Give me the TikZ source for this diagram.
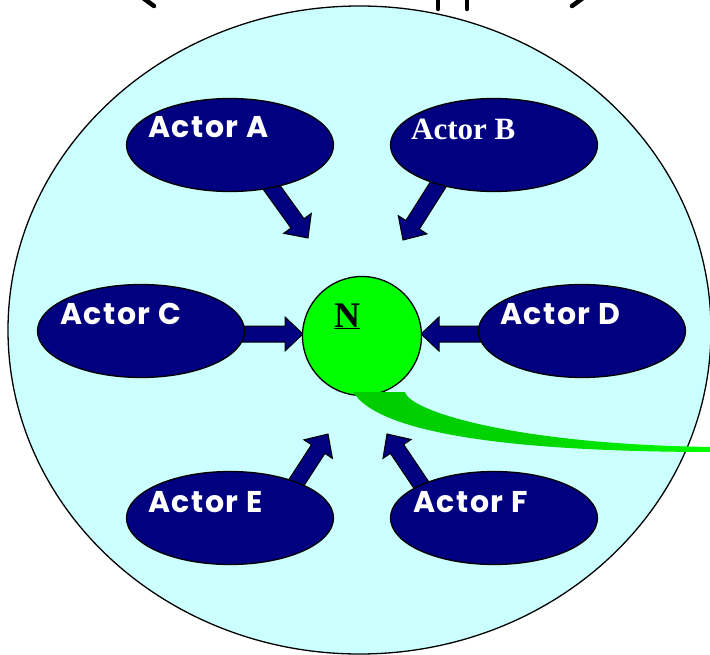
\documentclass[tikz,border=0pt]{standalone}
\usepackage{fontspec}
\usetikzlibrary{shapes.geometric,calc}
\newfontfamily\actorfont[LetterSpace=5]{Poppins}
\newfontfamily\serifbold{Liberation Serif}
\definecolor{navy}{RGB}{0,0,128}
\definecolor{paleaqua}{RGB}{204,255,255}
\definecolor{brightgreen}{RGB}{0,255,0}
\definecolor{deepgreen}{RGB}{0,204,0}
\newcommand\blockarr[2]{%
  \coordinate (#1base) at ($(#2)!18pt!(#1)$);
  \draw[blockarrow] ($(#1)!8pt!90:(#2)$) -- ($(#1base)!8pt!-90:(#1)$) -- ($(#1base)!17pt!-90:(#1)$) -- (#2)
    -- ($(#1base)!17pt!90:(#1)$) -- ($(#1base)!8pt!90:(#1)$) -- ($(#1)!8pt!-90:(#2)$) -- cycle;}
\tikzset{
  actor/.style={ellipse, draw=black, line width=1.3pt, fill=navy, minimum width=207pt, minimum height=93pt, inner sep=0pt},
  actortext/.style={anchor=base west, text=white, font=\actorfont\bfseries\fontsize{30}{30}\selectfont, inner sep=0pt},
  blockarrow/.style={draw=black, line width=1pt, fill=navy, line join=miter},
  hub/.style={circle, draw=black, line width=1.3pt, fill=brightgreen, minimum size=119pt, inner sep=0pt},
  frag/.style={line width=4.5pt, line cap=round}
}
\begin{document}
\begin{tikzpicture}[x=1pt,y=-1pt]
\useasboundingbox (0,0) rectangle (710,655);
% title fragments cut off at the top
\draw[frag] (143,-2) -- (154,6);
\draw[frag] (438,-2) -- (438,9);
\draw[frag] (467,-2) -- (467,9);
\draw[frag] (572,6) -- (583,-2);
% big region
\draw[fill=paleaqua, line width=1.3pt] (359.5,330) ellipse [x radius=351.5, y radius=324];
% actor positions
\coordinate (A) at (230,145);
\coordinate (B) at (494,145);
\coordinate (C) at (141,331);
\coordinate (D) at (582,331);
\coordinate (E) at (230,518);
\coordinate (F) at (494,518);
% arrow end points
\coordinate (ta) at (267,181); \coordinate (ha) at (308,238);
\coordinate (tb) at (441,180); \coordinate (hb) at (403,240);
\coordinate (tc) at (236,334); \coordinate (hc) at (303,334);
\coordinate (td) at (487,334); \coordinate (hd) at (421,334);
\coordinate (te) at (289,494); \coordinate (he) at (328,434);
\coordinate (tf) at (426,492); \coordinate (hf) at (387,434);
% arrows first, ellipses cover their tails
\blockarr{ta}{ha}
\blockarr{tb}{hb}
\blockarr{tc}{hc}
\blockarr{td}{hd}
\blockarr{te}{he}
\blockarr{tf}{hf}
\node[actor] (An) at (A) {};
\node[actor] (Bn) at (B) {};
\node[actor] (Cn) at (C) {};
\node[actor] (Dn) at (D) {};
\node[actor] (En) at (E) {};
\node[actor] (Fn) at (F) {};
% hub
\node[hub] (N) at (362,336) {};
% green swoosh
\shade[left color=deepgreen, right color=brightgreen, middle color=deepgreen!85!brightgreen]
  (353,392) -- (405,392) .. controls (410,412) and (520,445) .. (716,447)
  -- (716,452) .. controls (520,452) and (380,435) .. (353,392) -- cycle;
% labels
\node[actortext] (At) at (148,138) {Actor A};
\node[anchor=base west, text=white, font=\serifbold\bfseries\fontsize{31}{31}\selectfont, inner sep=0pt] (Bt) at (411,140) {Actor B};
\node[actortext] (Ct) at (60,324) {Actor C};
\node[actortext] (Dt) at (500,324) {Actor D};
\node[actortext] (Et) at (148,512) {Actor E};
\node[actortext] (Ft) at (413,512) {Actor F};
\node[anchor=base west, font=\serifbold\bfseries\fontsize{36}{36}\selectfont, inner sep=0pt] (Nt) at (334,327) {\underline{N}};
\end{tikzpicture}
\end{document}
